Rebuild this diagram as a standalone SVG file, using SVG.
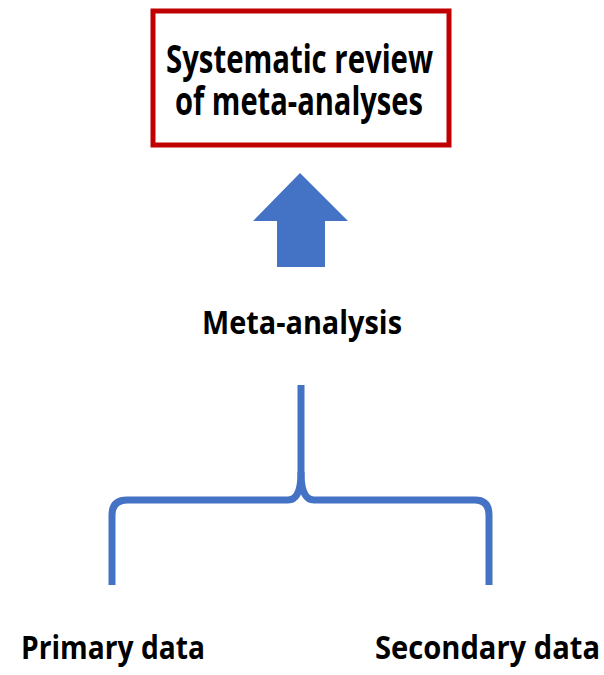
<svg xmlns="http://www.w3.org/2000/svg" width="604" height="675" viewBox="0 0 604 675">
<style>
.t{font-family:"Open Sans","Liberation Sans",sans-serif;font-weight:bold;fill:#000;}
.b{fill:none;stroke:#4472C4;stroke-width:7;stroke-linejoin:round;}
</style>
<rect width="604" height="675" fill="#fff"/>
<g id="review">
<rect x="153" y="11" width="296" height="134" fill="#fff" stroke="#C00000" stroke-width="5"/>
<text class="t" x="166" y="73" font-size="39" textLength="267" lengthAdjust="spacingAndGlyphs">Systematic review</text>
<text class="t" x="175" y="115" font-size="39" textLength="248" lengthAdjust="spacingAndGlyphs">of meta-analyses</text>
</g>
<g id="arrow">
<polygon points="300,173 348,221 325,221 325,267 277,267 277,221 253,221" fill="#4472C4"/>
</g>
<g id="meta">
<text class="t" x="202" y="334" font-size="33" textLength="200" lengthAdjust="spacingAndGlyphs">Meta-analysis</text>
</g>
<g id="connectors">
<path class="b" d="M112,585 L112,515 Q112,500 127,500 L288,500 Q301,500 301,472 L301,385"/>
<path class="b" d="M301,472 Q301,500 314,500 L475,500 Q489,500 489,515 L489,585"/>
</g>
<g id="primary">
<text class="t" x="21" y="659" font-size="33" textLength="184" lengthAdjust="spacingAndGlyphs">Primary data</text>
</g>
<g id="secondary">
<text class="t" x="375" y="659" font-size="33" textLength="225" lengthAdjust="spacingAndGlyphs">Secondary data</text>
</g>
</svg>
